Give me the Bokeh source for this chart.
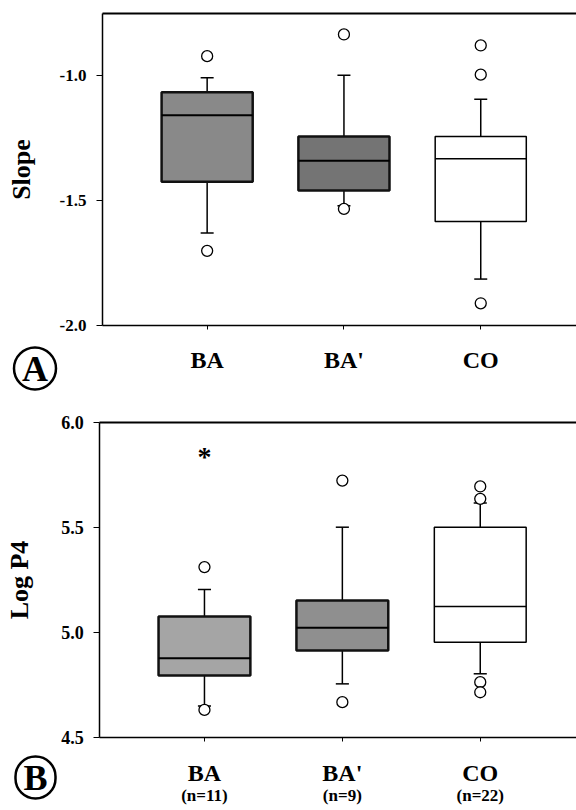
from bokeh.plotting import figure
from bokeh.models import Range1d, FixedTicker, LinearAxis, Label, PrintfTickFormatter
from bokeh.layouts import column
from bokeh.embed import file_html
from bokeh.resources import INLINE
from bokeh.core.properties import value

# ---------------- data ----------------
groups = ["BA", "BA'", "CO"]
n_labels = ["(n=11)", "(n=9)", "(n=22)"]
group_x = [1, 2, 3]

slope_ticks = [-2.0, -1.5, -1.0]
slope_q1 = [-1.424, -1.459, -1.583]
slope_median = [-1.158, -1.340, -1.332]
slope_q3 = [-1.066, -1.243, -1.243]
slope_low = [-1.629, -1.520, -1.814]
slope_high = [-1.007, -0.997, -1.094]
slope_outliers = [[-0.921, -1.701], [-0.834, -1.533], [-0.878, -0.995, -1.911]]

logp4_ticks = [4.5, 5.0, 5.5, 6.0]
logp4_q1 = [4.794, 4.913, 4.952]
logp4_median = [4.876, 5.021, 5.122]
logp4_q3 = [5.075, 5.151, 5.500]
logp4_low = [4.648, 4.754, 4.802]
logp4_high = [5.203, 5.500, 5.615]
logp4_outliers = [[5.310, 4.630], [5.722, 4.667], [5.694, 5.635, 4.762, 4.714]]
logp4_extreme_x = [1]
logp4_extreme = [5.854]

# ---------------- style / layout ----------------
SERIF = "Liberation Serif"
fills_a = ["#898989", "#747474", "white"]
fills_b = ["#a5a5a5", "#8f8f8f", "white"]
box_lw = [2.5, 2.5, 1.5]
box_lc = ["#111111", "#111111", "black"]
BOX_W = 0.666
CAP_W = 0.095
W = 576


def panel(height, frame_px, xlim, ylim, yticks, ylabel,
          q1, med, q3, lo, hi, outl, fills, letter, letter_off,
          label_standoff, tick_size, ylabel_standoff, second=None,
          second_standoff=0):
    # frame_px = (left, top, bottom) of the boxed plot area in canvas pixels;
    # the whole canvas is the drawing area and axes sit at fixed locations.
    fl, ft, fb = frame_px
    kx = (W - fl) / (xlim[1] - xlim[0])
    ky = (fb - ft) / (ylim[1] - ylim[0])
    xr = Range1d(xlim[0] - fl / kx, xlim[1])
    yr = Range1d(ylim[0] - (height - fb) / ky, ylim[1] + ft / ky)

    p = figure(width=W, height=height, x_range=xr, y_range=yr,
               output_backend="svg", toolbar_location=None,
               x_axis_location=None, y_axis_location=None,
               min_border=0)
    p.outline_line_color = None
    p.xgrid.visible = False
    p.ygrid.visible = False

    xa = LinearAxis(fixed_location=ylim[0], bounds=xlim,
                    ticker=FixedTicker(ticks=group_x),
                    major_label_overrides={x: g for x, g in zip(group_x, groups)},
                    major_label_text_font=SERIF, major_label_text_font_style="bold",
                    major_label_text_font_size="24px", major_label_text_color="black",
                    major_label_standoff=label_standoff, major_tick_out=4,
                    major_tick_in=0, minor_tick_line_color=None,
                    axis_line_width=1.5, major_tick_line_width=1)
    p.add_layout(xa, "below")

    if second is not None:
        ax2 = LinearAxis(fixed_location=ylim[0], bounds=xlim,
                         ticker=FixedTicker(ticks=group_x),
                         major_label_overrides={x: s for x, s in zip(group_x, second)},
                         axis_line_color=None, major_tick_line_color=None,
                         minor_tick_line_color=None,
                         major_label_standoff=second_standoff,
                         major_label_text_font=SERIF,
                         major_label_text_font_style="bold",
                         major_label_text_font_size="17px",
                         major_label_text_color="black")
        p.add_layout(ax2, "below")

    top = LinearAxis(fixed_location=ylim[1], bounds=xlim,
                     ticker=FixedTicker(ticks=[]), axis_line_width=2,
                     major_tick_line_color=None, minor_tick_line_color=None,
                     major_label_text_font_size="0px")
    p.add_layout(top, "above")

    ya = LinearAxis(fixed_location=xlim[0], bounds=ylim,
                    ticker=FixedTicker(ticks=yticks),
                    formatter=PrintfTickFormatter(format="%.1f"),
                    major_label_text_font=SERIF, major_label_text_font_style="bold",
                    major_label_text_font_size=tick_size, major_label_text_color="black",
                    major_label_standoff=10, major_tick_out=6, major_tick_in=0,
                    minor_tick_line_color=None, axis_line_width=1.5,
                    axis_label=ylabel, axis_label_text_font=SERIF,
                    axis_label_text_font_style="bold",
                    axis_label_text_font_size="26px",
                    axis_label_text_color="black",
                    axis_label_standoff=ylabel_standoff)
    p.add_layout(ya, "left")

    # whiskers
    p.segment(x0=group_x, y0=q3, x1=group_x, y1=hi, line_color="black", line_width=1.5)
    p.segment(x0=group_x, y0=q1, x1=group_x, y1=lo, line_color="black", line_width=1.5)
    p.segment(x0=[x - CAP_W / 2 for x in group_x], y0=hi,
              x1=[x + CAP_W / 2 for x in group_x], y1=hi, line_color="black", line_width=1.5)
    p.segment(x0=[x - CAP_W / 2 for x in group_x], y0=lo,
              x1=[x + CAP_W / 2 for x in group_x], y1=lo, line_color="black", line_width=1.5)
    # boxes
    p.vbar(x=group_x, width=BOX_W, bottom=q1, top=q3, fill_color=fills,
           line_color=box_lc, line_width=box_lw)
    # medians
    p.segment(x0=[x - BOX_W / 2 for x in group_x], y0=med,
              x1=[x + BOX_W / 2 for x in group_x], y1=med,
              line_color="black", line_width=[2, 2, 1.5])
    # outliers
    ox = [x for x, vals in zip(group_x, outl) for _ in vals]
    oy = [v for vals in outl for v in vals]
    p.scatter(x=ox, y=oy, marker="circle", size=11, fill_color="white",
              line_color="black", line_width=1.3)

    # circled panel letter, anchored at the boxed area's lower-left corner
    lab = Label(x=xlim[0], y=ylim[0], x_units="data", y_units="data",
                x_offset=letter_off[0], y_offset=letter_off[1],
                text=letter, text_font=SERIF, text_font_style="bold",
                text_font_size="36px", text_color="black",
                text_align="center", text_baseline="middle",
                border_line_color="black", border_line_width=2.5,
                border_radius=21,
                padding={"left": 8, "right": 8, "top": 1, "bottom": 1})
    p.add_layout(lab)
    return p


pa = panel(410, (102, 13, 325), (0.235, 3.70), (-2.0, -0.75), slope_ticks, "Slope",
           slope_q1, slope_median, slope_q3, slope_low, slope_high,
           slope_outliers, fills_a, "A", (-67.5, -43), 17, "17px", 21)

pb = panel(400, (99.3, 11.7, 326.7), (0.241, 3.698), (4.5, 6.0), logp4_ticks, "Log P4",
           logp4_q1, logp4_median, logp4_q3, logp4_low, logp4_high,
           logp4_outliers, fills_b, "B", (-64.3, -40.3), 19, "18px", 24,
           second=n_labels, second_standoff=43)

pb.text(x=logp4_extreme_x, y=logp4_extreme, text=["*"], text_font=value(SERIF),
        text_font_style="bold", text_font_size="28px", text_align="center",
        text_baseline="middle", y_offset=4, text_color="black")

layout = column(pa, pb, spacing=0)
open("out.html", "w").write(file_html(layout, INLINE))
